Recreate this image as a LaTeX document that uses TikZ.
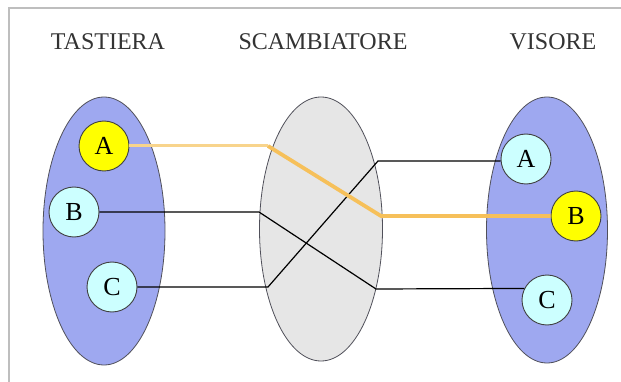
\documentclass[tikz,border=0pt]{standalone}
\usepackage{fontspec}
\setmainfont{Liberation Serif}
\usetikzlibrary{shapes.geometric}
\definecolor{setblue}{RGB}{158,168,240}
\definecolor{setgray}{RGB}{230,230,230}
\definecolor{keycyan}{RGB}{204,255,255}
\definecolor{keyyellow}{RGB}{255,255,0}
\definecolor{pathorange}{RGB}{246,192,90}
\definecolor{pathlight}{RGB}{248,212,140}
\definecolor{framegray}{RGB}{190,190,190}
\definecolor{edgegray}{RGB}{80,80,90}
\tikzset{
  setell/.style={ellipse, draw=edgegray, line width=0.8pt, minimum width=#1},
  keycirc/.style={circle, draw=black!75, line width=0.9pt, fill=keycyan, minimum size=50pt, inner sep=0pt, font=\fontsize{26}{26}\selectfont},
  keysel/.style={keycirc, fill=keyyellow},
  title/.style={font=\fontsize{24}{24}\selectfont, text=black!80},
  wire/.style={line width=1.2pt, black},
  hot/.style={line width=3.8pt, pathorange, line join=round}
}
\begin{document}
\begin{tikzpicture}[x=1pt,y=-1pt]
\useasboundingbox (0,0) rectangle (621,382);
\fill[white] (0,0) rectangle (621,382);
\draw[framegray, line width=2pt] (9,382) -- (9,8) -- (621,8);
% titles
\node[title] (tT) at (108,42) {TASTIERA};
\node[title] (tS) at (323,42) {SCAMBIATORE};
\node[title] (tV) at (553,42) {VISORE};
% sets
\node[setell=122pt, minimum height=268pt, fill=setblue] (L) at (104,231) {};
\node[setell=123pt, minimum height=264pt, fill=setgray] (M) at (321,229) {};
\node[setell=121pt, minimum height=266pt, fill=setblue] (R) at (547,230) {};
% keys
\node[keysel] (lA) at (104,146) {A};
\node[keycirc] (lB) at (74,212) {B};
\node[keycirc] (lC) at (112,287) {C};
\node[keycirc] (rA) at (526,159) {A};
\node[keysel] (rB) at (576,216) {B};
\node[keycirc] (rC) at (547,300) {C};
% bend points
\coordinate (o1) at (268,146);
\coordinate (o2) at (381,216);
\coordinate (b1) at (259,212);
\coordinate (b2) at (376,289);
\coordinate (c1) at (268,287);
\coordinate (c2) at (378,161);
% wires
\draw[wire] (lB.east) -- (b1) -- (b2) -- (rC.153);
\draw[wire] (lC.east) -- (c1) -- (c2) -- (rA.west |- c2);
\draw[hot, pathlight, line width=3pt] (lA.east) -- (o1);
\draw[hot] (o1) -- (o2) -- (rB.west);
\end{tikzpicture}
\end{document}
